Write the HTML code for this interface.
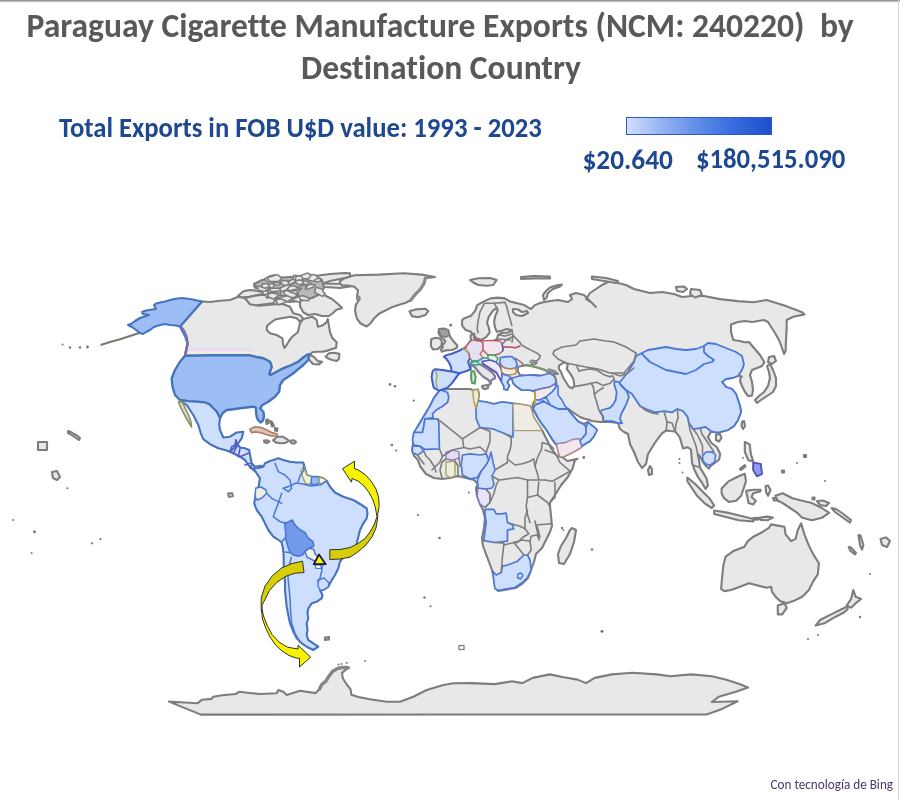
<!DOCTYPE html>
<html><head><meta charset="utf-8">
<style>
html,body{margin:0;padding:0;background:#fff;}
body{font-variant-ligatures:none;width:900px;height:800px;position:relative;overflow:hidden;font-family:"Carlito","Liberation Sans",sans-serif;}
.t{position:absolute;white-space:pre;font-weight:bold;transform-origin:0 0;line-height:1;}
#t1{left:26.5px;top:8px;font-size:33.6px;color:#595959;transform:scaleY(1.05);}
#t1b{left:820px;top:8px;font-size:33.6px;color:#595959;transform:scaleY(1.05);}
#t2{left:301px;top:49.5px;font-size:33.6px;color:#595959;transform:scaleY(1.05);}
#st{left:59px;top:112.7px;font-size:26.7px;color:#1e4890;transform:scaleY(1.08);}
#l1{left:582.5px;top:145px;font-size:27.3px;color:#1e4890;transform:scaleY(1.05);}
#l2{left:696px;top:145px;font-size:26.7px;color:#1e4890;transform:scaleY(1.05);}
#bing{left:770.5px;top:777px;font-size:13.2px;color:#4a3a68;font-weight:normal;transform:scaleY(1.08);}
#bar{position:absolute;left:626px;top:117px;width:145.5px;height:17.5px;box-sizing:border-box;border:1.5px solid #2d5bc5;background:linear-gradient(to right,#d2defb 0%,#93b2f1 25%,#5f8be8 50%,#3569dd 75%,#1d4fcc 100%);}
#topb{position:absolute;left:0;top:0;width:900px;height:3px;background:linear-gradient(#929292 0 1px,#c9c6cc 1px 2px,#eeecf0 2px 3px);}
#rb{position:absolute;left:898px;top:0;width:1px;height:800px;background:#d8d8d8;}
</style></head><body>
<svg id="map" width="900" height="800" viewBox="0 0 900 800" style="position:absolute;left:0;top:0"><polygon points="168.9,701.6 185.0,702.5 197.3,703.3 201.8,699.8 211.6,698.9 213.3,696.7 222.2,695.3 235.6,694.0 239.1,691.8 250.0,693.0 260.0,694.0 276.7,693.3 278.3,690.0 283.3,691.7 286.7,695.0 300.0,690.8 315.6,693.1 319.4,689.2 321.8,684.5 325.7,681.4 328.0,677.6 332.7,671.3 338.1,668.2 343.5,667.4 348.2,667.8 342.0,672.9 342.8,678.3 346.7,684.5 350.5,689.2 351.3,694.7 358.3,697.0 370.0,699.3 386.7,701.7 400.0,701.7 413.3,696.7 426.7,690.0 443.3,685.0 453.3,683.3 470.7,683.1 494.8,684.1 512.0,681.3 522.3,683.1 532.7,677.9 549.9,674.4 563.7,677.2 577.5,679.6 586.1,683.1 594.7,677.9 611.9,674.4 632.6,672.7 656.7,674.4 670.5,676.2 691.1,674.4 711.8,676.2 725.6,679.6 739.4,684.1 748.0,687.5 735.9,691.7 718.7,696.8 711.8,702.0 737.6,701.3 722.1,708.9 706.6,714.5 200.9,714.6" fill="#e8e8e8" stroke="#7d7d7d" stroke-width="2.1" stroke-linejoin="round"/>
<polygon points="721.1,588.9 722.2,576.7 723.3,565.6 725.6,556.7 733.3,551.1 744.4,546.7 747.8,541.1 753.3,536.7 762.2,532.2 768.9,527.8 771.1,524.4 777.8,525.6 784.4,526.7 785.6,534.4 791.1,541.1 795.6,538.9 797.8,530.0 801.1,523.3 804.4,534.4 808.9,545.6 813.3,554.4 818.9,563.3 817.8,574.4 813.3,581.1 808.9,590.0 802.2,596.7 793.3,601.1 786.7,603.3 780.0,601.1 775.6,596.7 772.2,592.2 771.1,586.7 766.7,587.8 757.8,585.6 748.9,583.3 740.0,586.7 731.1,590.0 724.4,591.1" fill="#e8e8e8" stroke="#7d7d7d" stroke-width="2.1" stroke-linejoin="round"/>
<polygon points="777.8,605.6 784.4,603.3 786.7,607.8 782.2,614.4 777.8,614.4" fill="#e8e8e8" stroke="#7d7d7d" stroke-width="2.1" stroke-linejoin="round"/>
<polygon points="853.3,590.0 855.6,596.7 861.1,598.9 855.6,603.3 851.1,607.8 846.7,605.6 851.1,598.9" fill="#e8e8e8" stroke="#7d7d7d" stroke-width="2.1" stroke-linejoin="round"/>
<polygon points="846.7,606.7 840.0,610.0 831.1,614.4 820.0,620.0 815.6,625.6 824.4,623.3 835.6,616.7 844.4,612.2 847.8,608.9" fill="#e8e8e8" stroke="#7d7d7d" stroke-width="2.1" stroke-linejoin="round"/>
<polygon points="572.0,528.0 576.0,530.0 574.0,542.0 570.0,554.0 564.0,564.0 559.0,563.0 558.0,554.0 561.0,546.0 566.0,538.0 570.0,530.0" fill="#e8e8e8" stroke="#7d7d7d" stroke-width="2.1" stroke-linejoin="round"/>
<polygon points="531.0,408.0 534.0,418.0 538.0,424.0 542.0,430.0 545.0,436.0 548.0,442.0 551.0,448.0 554.0,452.0 557.0,456.0 562.0,457.0 567.5,461.0 577.5,458.8 575.0,460.0 572.5,468.8 567.5,477.5 561.2,485.0 555.0,495.0 550.0,502.5 550.0,506.0 551.0,516.0 552.0,526.0 550.0,532.0 546.0,540.0 542.0,548.0 536.0,554.0 534.0,562.0 531.0,570.0 528.0,578.0 522.0,584.0 516.0,588.0 506.0,589.6 498.0,591.0 495.0,586.0 494.0,578.0 492.0,570.0 489.0,562.0 486.0,554.0 483.0,546.0 482.0,538.0 484.0,528.0 485.0,518.0 483.0,510.0 480.0,504.0 477.0,496.0 476.0,488.0 478.0,484.0 474.0,480.0 466.0,478.0 458.0,476.0 450.0,478.0 442.0,479.0 434.0,478.0 426.0,474.0 420.0,466.0 418.0,460.0 414.0,456.0 412.0,450.0 413.0,444.0 414.0,434.0 418.0,426.0 424.0,416.0 430.0,406.0 434.0,398.0 440.0,390.0 450.0,389.0 460.0,389.0 470.0,389.0 473.0,390.0 478.0,389.5 479.0,395.0 478.0,401.0 486.0,402.0 494.0,404.0 502.0,402.0 510.0,403.0 518.0,404.0 530.0,406.0" fill="#e8e8e8" stroke="#7d7d7d" stroke-width="2.1" stroke-linejoin="round"/>
<polygon points="439.4,390.6 433.9,387.8 432.8,383.3 431.7,376.7 432.8,371.1 435.0,369.4 441.7,370.0 448.3,371.1 451.7,371.7 451.1,366.7 448.9,362.2 446.1,358.3 443.9,356.7 447.2,355.0 451.7,353.9 456.1,352.2 459.4,350.6 462.8,348.9 466.1,346.7 468.3,343.9 469.4,342.2 471.0,340.0 470.5,336.0 472.0,333.5 474.5,334.0 474.0,338.0 476.0,340.0 478.5,341.0 481.7,341.0 487.2,341.2 493.9,341.0 497.0,339.0 498.0,335.0 502.0,333.0 508.0,332.5 512.0,330.0 506.6,329.1 501.2,330.9 496.8,331.8 495.0,327.3 494.1,322.0 495.0,316.7 497.7,310.4 496.8,307.8 493.2,310.4 488.8,316.7 487.0,322.9 488.8,327.3 489.7,332.7 486.1,337.1 481.7,339.8 477.2,338.9 474.0,336.0 471.0,331.8 465.7,330.0 462.1,325.6 462.1,320.2 463.9,318.4 471.0,315.8 475.4,310.4 477.2,305.1 483.4,301.6 490.6,298.4 497.7,297.6 504.8,298.4 510.1,301.6 517.2,303.3 524.3,305.1 528.8,307.8 531.0,309.0 535.0,305.1 540.0,303.0 550.0,301.0 558.0,300.0 568.0,302.0 572.0,299.0 570.0,295.0 576.0,293.0 584.0,295.0 590.0,301.0 596.0,307.0 592.0,303.0 586.0,299.0 590.0,293.0 596.0,289.0 602.0,285.0 610.0,281.0 618.0,283.0 626.0,285.0 634.0,289.0 642.0,291.0 650.0,293.0 662.0,292.0 674.0,294.0 682.0,297.0 692.0,296.0 704.0,296.0 720.0,299.1 737.8,301.1 753.3,302.2 766.7,300.0 784.4,305.6 802.2,312.2 804.4,314.4 793.3,316.7 786.7,320.0 786.7,328.0 786.0,340.0 785.6,351.0 784.0,354.0 782.0,348.0 779.0,340.0 775.0,333.0 771.0,326.7 768.0,322.0 764.0,320.0 758.0,321.0 752.0,322.0 745.0,321.0 738.0,322.0 731.0,324.4 731.0,332.0 733.3,340.0 740.0,341.0 744.4,342.2 749.0,342.0 754.0,348.0 760.0,355.0 764.4,362.2 762.0,366.0 757.0,368.0 752.0,370.0 750.0,375.0 752.0,382.0 753.0,390.0 752.0,395.6 748.0,396.0 745.0,392.0 742.0,386.0 740.0,381.0 741.0,376.0 738.0,376.0 732.0,378.0 726.0,379.0 722.0,382.0 726.0,387.0 732.0,389.0 736.0,394.0 738.0,400.0 740.0,406.0 741.0,412.0 738.0,420.0 734.0,426.0 728.0,430.0 718.0,432.6 711.2,431.5 707.9,437.1 711.2,442.7 716.9,447.2 720.2,454.0 719.1,459.6 714.6,463.0 710.1,466.4 709.0,468.6 706.0,466.0 703.0,462.0 700.0,456.2 697.7,454.0 699.0,460.0 700.0,467.5 703.4,473.1 706.7,478.7 707.9,485.5 705.6,488.9 702.2,483.2 697.7,476.5 694.4,469.7 692.1,463.0 691.5,456.0 691.0,449.5 687.6,447.2 683.1,448.4 682.0,445.0 679.7,437.1 675.2,431.5 670.0,431.0 666.2,430.4 661.7,433.7 655.0,442.7 648.0,454.0 646.0,464.0 642.0,468.0 638.0,462.0 634.0,452.0 630.0,444.0 628.0,434.0 624.0,432.0 620.0,429.0 618.0,423.0 610.0,422.0 600.0,422.0 592.0,421.0 588.0,419.5 584.0,418.5 580.0,417.0 574.0,413.0 568.0,408.5 569.0,411.0 572.0,414.5 575.0,418.0 578.0,421.5 582.0,423.5 585.0,423.5 588.0,422.0 590.0,424.0 594.0,427.0 597.0,430.0 594.0,436.0 590.0,441.0 585.0,444.0 580.0,448.0 573.0,452.0 565.0,456.0 560.0,457.0 559.0,454.0 558.0,450.0 557.0,446.0 555.0,443.0 552.0,439.0 549.0,434.0 546.0,429.0 542.0,424.0 538.0,418.0 535.0,412.0 532.0,408.5 533.0,404.0 535.0,400.0 535.0,391.7 530.0,390.0 521.7,390.0 516.7,386.7 513.3,383.3 511.7,378.3 509.4,378.9 507.2,382.2 509.4,385.6 507.2,390.0 504.0,389.0 503.8,386.0 501.5,381.5 498.7,376.4 496.5,372.5 490.3,368.5 483.5,364.0 482.0,361.5 480.7,364.6 486.3,368.0 490.8,371.3 494.2,374.7 495.3,378.0 493.1,379.2 491.4,380.3 490.3,384.3 489.7,381.5 487.5,379.2 483.5,377.0 479.0,372.5 474.6,366.9 470.6,365.0 470.6,369.4 466.1,371.1 460.6,372.8 458.3,374.4 455.0,378.9 451.7,383.3 447.2,387.8 443.9,388.9" fill="#e8e8e8" stroke="#7d7d7d" stroke-width="2.1" stroke-linejoin="round"/>
<polygon points="439.0,329.0 444.0,328.5 448.0,330.0 450.2,336.9 454.3,342.3 457.4,345.4 456.5,348.1 452.0,350.0 445.3,350.4 441.7,351.7 441.0,349.5 443.0,347.0 442.1,345.0 443.9,343.6 445.5,341.4 443.0,338.5 440.5,336.5 438.5,333.0" fill="#e8e8e8" stroke="#7d7d7d" stroke-width="2.1" stroke-linejoin="round"/>
<polygon points="431.5,339.0 436.0,337.8 440.0,338.5 442.0,341.5 441.5,345.5 438.0,349.0 433.0,349.5 430.9,346.0 431.0,342.0" fill="#e8e8e8" stroke="#7d7d7d" stroke-width="2.1" stroke-linejoin="round"/>
<polygon points="471.5,371.5 474.0,371.3 475.5,377.0 474.5,383.5 472.0,382.5 471.2,377.0" fill="#e8e8e8" stroke="#7d7d7d" stroke-width="2.1" stroke-linejoin="round"/>
<polygon points="482.0,386.0 488.6,384.8 488.0,388.0 485.0,389.3 482.5,388.0" fill="#e8e8e8" stroke="#7d7d7d" stroke-width="2.1" stroke-linejoin="round"/>
<polygon points="470.0,280.0 478.3,278.3 490.0,278.0 496.7,280.0 493.3,285.0 486.7,285.8 478.3,285.0 473.3,282.5" fill="#e8e8e8" stroke="#7d7d7d" stroke-width="2.1" stroke-linejoin="round"/>
<polygon points="521.0,277.0 534.0,276.0 550.0,276.5 550.0,278.5 534.0,278.5 521.0,279.0" fill="#e8e8e8" stroke="#7d7d7d" stroke-width="2.1" stroke-linejoin="round"/>
<polygon points="544.0,300.0 543.0,295.0 546.0,291.0 550.0,287.5 556.0,285.5 562.0,284.5 560.0,286.5 553.0,289.0 548.0,293.0 546.5,298.0" fill="#e8e8e8" stroke="#7d7d7d" stroke-width="2.1" stroke-linejoin="round"/>
<polygon points="592.0,276.5 606.0,278.0 618.0,281.0 616.0,283.0 604.0,281.0 592.0,279.0" fill="#e8e8e8" stroke="#7d7d7d" stroke-width="2.1" stroke-linejoin="round"/>
<polygon points="767.0,366.0 770.0,364.0 773.0,370.0 776.0,378.0 776.0,386.0 773.0,392.0 767.0,396.0 761.0,400.0 757.0,403.0 755.0,400.0 759.0,396.0 764.0,392.0 768.0,386.0 770.0,378.0 769.0,372.0" fill="#e8e8e8" stroke="#7d7d7d" stroke-width="2.1" stroke-linejoin="round"/>
<polygon points="769.0,357.0 774.0,356.0 776.0,361.0 772.0,364.0 768.0,362.0" fill="#e8e8e8" stroke="#7d7d7d" stroke-width="2.1" stroke-linejoin="round"/>
<polygon points="676.0,287.0 684.0,286.5 687.0,289.0 683.0,292.0 677.0,291.0" fill="#e8e8e8" stroke="#7d7d7d" stroke-width="2.1" stroke-linejoin="round"/>
<polygon points="691.0,289.0 700.0,290.0 702.0,295.0 695.0,297.5 690.0,294.0" fill="#e8e8e8" stroke="#7d7d7d" stroke-width="2.1" stroke-linejoin="round"/>
<polygon points="742.0,422.0 744.0,421.0 745.0,426.0 743.0,429.0 741.5,426.0" fill="#e8e8e8" stroke="#7d7d7d" stroke-width="2.1" stroke-linejoin="round"/>
<polygon points="716.0,434.5 720.0,434.0 721.5,438.0 719.0,441.6 716.0,440.0" fill="#e8e8e8" stroke="#7d7d7d" stroke-width="2.1" stroke-linejoin="round"/>
<polygon points="650.0,466.0 652.0,469.0 652.0,474.0 649.0,475.0 648.0,470.0" fill="#e8e8e8" stroke="#7d7d7d" stroke-width="2.1" stroke-linejoin="round"/>
<polygon points="687.3,477.5 694.7,483.6 702.0,490.9 709.3,498.2 714.2,505.6 711.8,508.0 704.4,503.1 697.1,495.8 692.2,488.5 687.3,481.1" fill="#e8e8e8" stroke="#7d7d7d" stroke-width="2.1" stroke-linejoin="round"/>
<polygon points="714.2,510.5 728.9,512.9 743.6,516.6 753.3,519.0 753.3,521.5 738.7,520.2 724.0,516.6 714.2,514.1" fill="#e8e8e8" stroke="#7d7d7d" stroke-width="2.1" stroke-linejoin="round"/>
<polygon points="721.6,488.5 728.9,481.1 738.7,476.2 744.8,473.8 746.0,481.1 743.6,488.5 741.1,495.8 736.2,500.7 728.9,501.9 724.0,498.2 721.6,493.3" fill="#e8e8e8" stroke="#7d7d7d" stroke-width="2.1" stroke-linejoin="round"/>
<polygon points="746.0,490.9 753.3,489.7 760.7,489.7 760.0,491.5 753.3,493.3 751.5,497.0 755.8,500.7 753.3,504.4 748.5,503.1 747.2,495.8" fill="#e8e8e8" stroke="#7d7d7d" stroke-width="2.1" stroke-linejoin="round"/>
<polygon points="744.8,442.0 749.7,444.4 750.9,454.2 753.3,461.6 748.5,460.3 744.8,451.8" fill="#e8e8e8" stroke="#7d7d7d" stroke-width="2.1" stroke-linejoin="round"/>
<polygon points="753.3,462.8 760.7,464.0 761.9,473.8 757.0,476.2 753.3,470.1" fill="#e8e8e8" stroke="#7d7d7d" stroke-width="2.1" stroke-linejoin="round"/>
<polygon points="739.9,468.9 744.8,465.2 745.5,466.5 741.0,470.0" fill="#e8e8e8" stroke="#7d7d7d" stroke-width="2.1" stroke-linejoin="round"/>
<polygon points="760.7,517.5 767.0,516.6 772.9,517.5 768.0,520.2 761.0,520.0" fill="#e8e8e8" stroke="#7d7d7d" stroke-width="2.1" stroke-linejoin="round"/>
<polygon points="753.5,518.0 760.0,517.8 759.0,519.5 754.0,519.8" fill="#e8e8e8" stroke="#7d7d7d" stroke-width="2.1" stroke-linejoin="round"/>
<polygon points="765.6,486.0 768.0,485.5 770.5,490.0 768.0,495.8 766.0,492.0" fill="#e8e8e8" stroke="#7d7d7d" stroke-width="2.1" stroke-linejoin="round"/>
<polygon points="773.0,498.0 782.7,498.5 781.0,500.7 774.0,500.5" fill="#e8e8e8" stroke="#7d7d7d" stroke-width="2.1" stroke-linejoin="round"/>
<polygon points="817.0,501.0 823.0,500.5 829.0,503.0 826.0,506.0 820.0,505.0" fill="#e8e8e8" stroke="#7d7d7d" stroke-width="2.1" stroke-linejoin="round"/>
<polygon points="831.6,508.0 836.0,509.0 842.0,513.0 851.0,520.0 850.0,522.7 842.0,517.0 835.0,512.0" fill="#e8e8e8" stroke="#7d7d7d" stroke-width="2.1" stroke-linejoin="round"/>
<polygon points="858.5,535.0 860.5,535.5 863.4,545.0 862.0,549.6 860.0,545.0" fill="#e8e8e8" stroke="#7d7d7d" stroke-width="2.1" stroke-linejoin="round"/>
<polygon points="848.7,547.0 851.0,547.5 856.0,553.0 855.0,554.5 850.0,550.5" fill="#e8e8e8" stroke="#7d7d7d" stroke-width="2.1" stroke-linejoin="round"/>
<polygon points="880.5,539.0 886.0,537.4 890.0,541.0 887.0,547.0 882.0,545.0" fill="#e8e8e8" stroke="#7d7d7d" stroke-width="2.1" stroke-linejoin="round"/>
<polygon points="804.0,455.0 806.0,455.0 806.0,457.0 804.0,457.0" fill="#e8e8e8" stroke="#7d7d7d" stroke-width="2.1" stroke-linejoin="round"/>
<polygon points="782.0,470.5 784.0,470.5 784.0,472.5 782.0,472.5" fill="#e8e8e8" stroke="#7d7d7d" stroke-width="2.1" stroke-linejoin="round"/>
<polygon points="812.5,497.5 814.5,497.5 814.5,499.5 812.5,499.5" fill="#e8e8e8" stroke="#7d7d7d" stroke-width="2.1" stroke-linejoin="round"/>
<polygon points="775.4,495.8 782.7,493.3 792.5,498.2 802.2,500.7 812.0,503.1 821.8,508.0 829.1,512.9 821.8,517.8 812.0,520.2 802.2,517.8 797.4,512.9 790.0,508.0 782.7,503.1 777.8,500.7" fill="#e8e8e8" stroke="#7d7d7d" stroke-width="2.1" stroke-linejoin="round"/>
<polygon points="238.0,296.0 243.3,291.3 250.0,290.0 256.7,290.7 262.0,292.0 263.3,294.0 256.7,295.3 250.0,296.7 243.3,297.3 238.7,297.3" fill="#e8e8e8" stroke="#7d7d7d" stroke-width="2.1" stroke-linejoin="round"/>
<polygon points="245.3,298.0 250.0,296.7 258.0,295.3 267.3,294.7 272.7,296.0 275.3,300.0 273.3,303.3 266.7,304.0 256.7,305.3 250.0,306.0 245.3,304.7" fill="#e8e8e8" stroke="#7d7d7d" stroke-width="2.1" stroke-linejoin="round"/>
<polygon points="254.0,286.0 260.0,284.7 267.3,284.0 272.7,285.3 271.3,288.0 263.3,288.7 255.3,288.0" fill="#e8e8e8" stroke="#7d7d7d" stroke-width="2.1" stroke-linejoin="round"/>
<polygon points="305.0,279.0 315.0,276.0 330.0,274.0 345.0,273.0 350.0,273.3 350.0,277.0 340.0,279.0 330.0,281.0 323.0,283.5 335.0,283.8 350.0,283.5 350.0,286.5 340.0,288.0 325.0,287.0 318.0,285.0 310.0,282.0" fill="#e8e8e8" stroke="#7d7d7d" stroke-width="2.1" stroke-linejoin="round"/>
<polygon points="300.0,297.0 308.0,295.0 318.0,293.0 326.0,296.0 332.0,299.0 338.0,304.0 342.0,308.0 336.0,310.0 333.0,313.0 329.0,316.0 322.0,316.0 315.0,314.0 308.0,315.0 303.0,312.0 300.0,306.0" fill="#e8e8e8" stroke="#7d7d7d" stroke-width="2.1" stroke-linejoin="round"/>
<polygon points="68.0,431.0 71.0,432.0 74.0,434.0 77.0,435.5 80.0,438.0 79.0,440.0 76.0,438.0 73.0,436.0 70.0,434.0 68.0,433.0" fill="#e8e8e8" stroke="#7d7d7d" stroke-width="2.1" stroke-linejoin="round"/>
<polygon points="38.0,442.0 47.0,442.0 47.0,450.0 38.0,450.0" fill="#e8e8e8" stroke="#7d7d7d" stroke-width="2.1" stroke-linejoin="round"/>
<polygon points="52.0,472.0 57.0,471.0 60.0,477.0 57.0,480.0 53.0,478.0" fill="#e8e8e8" stroke="#7d7d7d" stroke-width="2.1" stroke-linejoin="round"/>
<polygon points="228.0,493.5 232.0,493.0 233.0,496.0 229.0,497.0" fill="#e8e8e8" stroke="#7d7d7d" stroke-width="2.1" stroke-linejoin="round"/>
<polyline points="140.0,332.8 130.0,336.0 120.0,339.2 110.0,342.0 101.5,344.8" fill="none" stroke="#7a7a72" stroke-width="2.2" stroke-linejoin="round" stroke-linecap="round"/>
<polygon points="202.0,301.5 210.0,302.0 220.0,300.8 230.0,300.0 238.3,296.7 245.0,298.3 250.0,304.2 258.3,305.8 266.7,305.0 275.0,304.2 283.3,304.2 290.0,306.7 293.3,313.3 300.0,315.0 303.3,318.9 312.2,316.7 316.7,320.0 317.8,326.7 322.2,325.6 326.7,322.2 327.8,318.9 328.9,325.6 330.0,332.2 332.2,337.8 336.7,342.2 336.1,347.8 332.2,348.9 327.8,350.6 322.2,351.7 316.7,351.7 312.2,352.2 310.0,355.0 314.0,357.0 317.8,361.1 322.2,361.7 318.9,364.4 313.0,364.0 309.2,360.0 308.0,355.0 303.3,357.5 298.3,361.7 291.7,365.0 283.3,368.3 276.7,371.7 270.8,375.0 269.2,374.2 271.7,366.7 270.0,361.7 263.3,358.3 255.0,356.7 250.0,355.3 235.0,355.3 210.0,355.3 185.0,355.8 186.0,350.0 188.0,345.0 186.0,338.0 182.0,331.0 180.0,326.5" fill="#e8e8e8" stroke="#7d7d7d" stroke-width="2.1" stroke-linejoin="round"/>
<polygon points="340.0,281.0 344.0,278.5 354.4,275.2 378.9,274.6 403.3,273.3 421.7,274.6 435.1,277.0 425.4,278.2 424.1,283.1 420.5,289.2 415.6,294.1 410.7,300.2 405.8,302.7 398.5,305.1 391.1,307.6 383.8,311.2 378.9,313.7 374.0,318.6 370.3,323.5 366.7,326.5 360.6,323.5 356.9,318.6 355.1,311.2 355.7,305.1 358.1,301.5 356.9,296.6 358.1,290.4 354.4,286.8 348.3,285.6 342.2,285.6 339.8,283.1" fill="#e8e8e8" stroke="#7d7d7d" stroke-width="2.1" stroke-linejoin="round"/>
<polygon points="409.5,311.2 415.6,309.4 425.4,308.8 428.4,311.2 425.4,314.9 418.0,317.3 411.9,316.1" fill="#e8e8e8" stroke="#7d7d7d" stroke-width="2.1" stroke-linejoin="round"/>
<polygon points="325.6,356.7 328.9,353.3 334.4,352.8 339.4,353.9 338.9,358.9 336.7,361.1 332.2,360.0 327.8,358.3" fill="#e8e8e8" stroke="#7d7d7d" stroke-width="2.1" stroke-linejoin="round"/>
<polygon points="273.0,440.2 277.4,436.7 282.8,436.7 287.2,439.3 289.0,441.1 285.4,442.9 280.1,443.3 275.7,442.4" fill="#e8e8e8" stroke="#7d7d7d" stroke-width="2.1" stroke-linejoin="round"/>
<polygon points="264.0,440.5 267.0,440.2 269.4,441.5 267.5,443.0 264.5,442.5" fill="#e8e8e8" stroke="#7d7d7d" stroke-width="2.1" stroke-linejoin="round"/>
<polygon points="290.8,440.5 294.0,440.2 296.1,442.0 294.0,443.8 291.0,443.0" fill="#e8e8e8" stroke="#7d7d7d" stroke-width="2.1" stroke-linejoin="round"/>
<polygon points="266.0,420.0 268.0,419.5 268.5,423.0 266.5,424.0" fill="#e8e8e8" stroke="#7d7d7d" stroke-width="2.1" stroke-linejoin="round"/>
<polygon points="270.0,421.0 272.0,422.0 274.0,426.0 272.0,426.5" fill="#e8e8e8" stroke="#7d7d7d" stroke-width="2.1" stroke-linejoin="round"/>
<polygon points="275.0,428.0 277.5,428.5 277.0,431.0 275.0,430.5" fill="#e8e8e8" stroke="#7d7d7d" stroke-width="2.1" stroke-linejoin="round"/>
<polygon points="325.0,637.5 329.0,637.0 329.0,639.5 325.0,640.0" fill="#e8e8e8" stroke="#7d7d7d" stroke-width="2.1" stroke-linejoin="round"/>
<polygon points="254.0,284.0 262.0,280.0 275.0,278.0 290.0,277.0 305.0,276.0 315.0,276.0 322.0,280.0 324.0,288.0 320.0,294.0 312.0,298.0 300.0,301.0 290.0,302.0 280.0,300.0 272.0,296.0 266.0,290.0 258.0,288.0" fill="#b8b8b8" stroke="#7d7d7d" stroke-width="2.1" stroke-linejoin="round"/>
<polygon points="438.5,329.5 444.0,328.8 448.5,330.5 449.5,335.0 446.0,337.0 441.0,336.0" fill="#a0a0a0" stroke="#7d7d7d" stroke-width="1.5" stroke-linejoin="round"/>
<circle cx="450.7" cy="325.2" r="1.4" fill="#777"/>
<polygon points="290.4,290.9 289.4,293.1 285.4,293.0 282.6,292.4 277.0,290.8 281.0,288.0 285.2,287.4 291.5,288.1" fill="#e8e8e8" stroke="#7d7d7d" stroke-width="1.5" stroke-linejoin="round"/>
<polygon points="299.7,296.9 299.1,298.9 294.6,299.2 294.7,297.1 298.6,295.7" fill="#e8e8e8" stroke="#7d7d7d" stroke-width="1.5" stroke-linejoin="round"/>
<polygon points="306.2,283.2 306.5,284.2 304.1,285.3 300.9,285.8 301.4,284.1 301.3,282.6 305.3,281.6" fill="#e8e8e8" stroke="#7d7d7d" stroke-width="1.5" stroke-linejoin="round"/>
<polygon points="280.2,284.3 279.3,285.0 276.9,285.2 275.0,284.7 273.6,283.6 274.6,282.4 277.2,282.4 279.4,283.3" fill="#e8e8e8" stroke="#7d7d7d" stroke-width="1.5" stroke-linejoin="round"/>
<polygon points="274.0,283.6 273.4,287.5 264.3,289.2 264.3,287.0 269.5,284.1" fill="#e8e8e8" stroke="#7d7d7d" stroke-width="1.5" stroke-linejoin="round"/>
<polygon points="283.2,292.7 281.5,293.9 279.9,294.3 277.5,292.4 276.0,291.0 278.1,290.3 280.1,291.0 281.3,291.4" fill="#e8e8e8" stroke="#7d7d7d" stroke-width="1.5" stroke-linejoin="round"/>
<polygon points="296.1,282.0 293.5,283.3 289.7,284.6 286.8,285.8 283.5,283.2 283.2,281.5 288.9,281.0 292.8,279.8" fill="#e8e8e8" stroke="#7d7d7d" stroke-width="1.5" stroke-linejoin="round"/>
<polygon points="283.0,289.9 282.2,291.9 278.5,293.2 276.4,292.3 276.7,291.2 277.4,289.7 280.5,289.5" fill="#e8e8e8" stroke="#7d7d7d" stroke-width="1.5" stroke-linejoin="round"/>
<polygon points="280.6,280.1 278.3,281.3 274.8,281.9 273.0,281.1 271.2,278.8 272.5,277.9 276.7,277.7 278.3,278.6" fill="#e8e8e8" stroke="#7d7d7d" stroke-width="1.5" stroke-linejoin="round"/>
<polygon points="298.5,293.9 295.5,294.3 291.7,291.6 293.6,290.4 296.1,291.3" fill="#e8e8e8" stroke="#7d7d7d" stroke-width="1.5" stroke-linejoin="round"/>
<polygon points="301.7,288.7 297.2,289.6 292.6,290.1 293.3,287.8 298.6,286.5" fill="#e8e8e8" stroke="#7d7d7d" stroke-width="1.5" stroke-linejoin="round"/>
<polygon points="290.4,297.7 288.0,301.2 284.8,301.7 282.5,300.6 279.6,299.2 284.2,296.6 287.6,297.4" fill="#e8e8e8" stroke="#7d7d7d" stroke-width="1.5" stroke-linejoin="round"/>
<polygon points="270.1,288.7 267.2,290.5 262.3,288.6 260.5,286.6 263.5,285.2 268.2,286.9" fill="#e8e8e8" stroke="#7d7d7d" stroke-width="1.5" stroke-linejoin="round"/>
<polygon points="285.1,291.8 283.0,295.1 274.2,296.1 275.3,293.6 275.8,290.5 280.2,291.2" fill="#e8e8e8" stroke="#7d7d7d" stroke-width="1.5" stroke-linejoin="round"/>
<polygon points="276.8,292.9 273.8,297.1 266.5,298.0 265.4,294.2 273.5,292.4" fill="#e8e8e8" stroke="#7d7d7d" stroke-width="1.5" stroke-linejoin="round"/>
<polygon points="270.3,287.2 264.5,291.4 258.4,290.2 257.1,287.0 265.8,284.8" fill="#e8e8e8" stroke="#7d7d7d" stroke-width="1.5" stroke-linejoin="round"/>
<polygon points="311.6,284.6 306.1,286.5 299.0,280.7 299.4,278.4 308.1,279.1" fill="#e8e8e8" stroke="#7d7d7d" stroke-width="1.5" stroke-linejoin="round"/>
<polygon points="318.8,278.3 315.0,281.5 306.3,279.8 304.9,277.2 308.8,274.5 315.1,274.8" fill="#e8e8e8" stroke="#7d7d7d" stroke-width="1.5" stroke-linejoin="round"/>
<polygon points="291.1,291.3 288.1,292.8 279.2,293.5 276.8,291.1 283.3,287.4 287.3,288.6" fill="#e8e8e8" stroke="#7d7d7d" stroke-width="1.5" stroke-linejoin="round"/>
<polygon points="298.6,288.3 293.6,292.8 289.1,290.4 284.8,287.3 293.7,285.6" fill="#e8e8e8" stroke="#7d7d7d" stroke-width="1.5" stroke-linejoin="round"/>
<polygon points="315.1,284.8 312.6,287.6 310.8,287.9 306.4,289.6 305.3,288.6 307.1,286.6 308.6,284.4 311.8,284.4" fill="#e8e8e8" stroke="#7d7d7d" stroke-width="1.5" stroke-linejoin="round"/>
<polygon points="304.0,280.9 297.8,282.8 292.8,280.1 293.8,275.2 300.8,276.0" fill="#e8e8e8" stroke="#7d7d7d" stroke-width="1.5" stroke-linejoin="round"/>
<polygon points="296.5,281.0 292.7,283.1 289.7,284.6 285.9,283.4 290.3,280.5 292.6,279.1" fill="#e8e8e8" stroke="#7d7d7d" stroke-width="1.5" stroke-linejoin="round"/>
<polygon points="276.8,279.0 277.1,281.6 273.6,281.8 267.0,281.4 264.9,278.6 268.7,276.3 274.6,274.8 277.3,277.0" fill="#e8e8e8" stroke="#7d7d7d" stroke-width="1.5" stroke-linejoin="round"/>
<polygon points="302.9,297.4 299.3,302.4 296.5,301.3 292.2,300.1 294.9,298.0 298.8,296.8" fill="#e8e8e8" stroke="#7d7d7d" stroke-width="1.5" stroke-linejoin="round"/>
<polygon points="287.3,292.2 284.2,293.3 282.2,292.0 282.7,290.6 286.8,290.5" fill="#e8e8e8" stroke="#7d7d7d" stroke-width="1.5" stroke-linejoin="round"/>
<polygon points="309.2,298.2 308.4,300.8 303.7,300.3 300.1,299.4 299.6,297.7 299.0,296.3 303.1,295.8 305.8,296.8" fill="#e8e8e8" stroke="#7d7d7d" stroke-width="1.5" stroke-linejoin="round"/>
<polygon points="282.2,278.1 278.7,281.3 270.1,281.6 267.1,277.9 277.2,274.6" fill="#e8e8e8" stroke="#7d7d7d" stroke-width="1.5" stroke-linejoin="round"/>
<polygon points="308.5,283.4 307.0,284.7 301.8,283.5 302.0,280.5 307.6,281.6" fill="#e8e8e8" stroke="#7d7d7d" stroke-width="1.5" stroke-linejoin="round"/>
<polygon points="289.8,293.0 285.6,296.1 280.6,294.8 280.6,291.7 285.8,290.3" fill="#e8e8e8" stroke="#7d7d7d" stroke-width="1.5" stroke-linejoin="round"/>
<polygon points="281.8,289.7 278.0,291.0 275.6,291.3 270.9,291.4 269.7,288.2 275.7,288.2 281.6,288.1" fill="#e8e8e8" stroke="#7d7d7d" stroke-width="1.5" stroke-linejoin="round"/>
<polygon points="291.4,284.6 286.1,290.1 281.2,291.5 280.1,289.7 281.0,287.5 287.0,285.0" fill="#e8e8e8" stroke="#7d7d7d" stroke-width="1.5" stroke-linejoin="round"/>
<polygon points="268.9,285.0 268.4,286.9 264.8,288.2 260.8,286.7 262.2,285.7 262.3,283.5 265.0,283.7 267.5,283.6" fill="#e8e8e8" stroke="#7d7d7d" stroke-width="1.5" stroke-linejoin="round"/>
<polygon points="300.8,288.9 296.3,294.3 293.1,293.3 288.6,293.0 291.6,290.2 295.0,289.4" fill="#e8e8e8" stroke="#7d7d7d" stroke-width="1.5" stroke-linejoin="round"/>
<polygon points="297.1,291.6 297.8,293.4 292.0,294.7 287.8,294.6 288.1,292.6 289.8,291.0 291.7,290.9 296.6,290.5" fill="#e8e8e8" stroke="#7d7d7d" stroke-width="1.5" stroke-linejoin="round"/>
<polygon points="278.5,295.3 275.7,297.6 272.8,299.0 267.2,296.2 269.6,293.0 275.5,293.4" fill="#e8e8e8" stroke="#7d7d7d" stroke-width="1.5" stroke-linejoin="round"/>
<polygon points="304.0,277.1 302.6,279.4 300.8,280.7 295.2,280.2 295.6,277.0 298.5,275.7 302.0,276.2" fill="#e8e8e8" stroke="#7d7d7d" stroke-width="1.5" stroke-linejoin="round"/>
<polygon points="285.7,299.4 285.6,302.4 278.2,304.7 276.5,302.4 276.8,299.4 282.6,297.9" fill="#e8e8e8" stroke="#7d7d7d" stroke-width="1.5" stroke-linejoin="round"/>
<polygon points="292.3,298.4 287.4,301.6 283.2,299.7 278.2,298.0 283.0,296.7 290.9,295.1" fill="#e8e8e8" stroke="#7d7d7d" stroke-width="1.5" stroke-linejoin="round"/>
<polygon points="303.0,283.0 300.7,284.9 298.1,284.2 294.8,282.1 296.8,280.6 299.8,280.0 303.7,281.6" fill="#e8e8e8" stroke="#7d7d7d" stroke-width="1.5" stroke-linejoin="round"/>
<polygon points="294.9,296.6 295.4,298.1 289.3,296.7 286.0,295.3 282.9,292.3 286.6,290.3 290.9,292.2 298.0,294.8" fill="#e8e8e8" stroke="#7d7d7d" stroke-width="1.5" stroke-linejoin="round"/>
<polygon points="311.0,275.4 308.5,278.8 302.9,278.6 301.0,275.4 307.9,273.0" fill="#e8e8e8" stroke="#7d7d7d" stroke-width="1.5" stroke-linejoin="round"/>
<polygon points="325.5,294.0 322.2,296.4 318.3,294.2 314.3,292.4 315.1,291.4 315.6,287.2 322.1,288.9 323.3,292.1" fill="#e8e8e8" stroke="#7d7d7d" stroke-width="1.5" stroke-linejoin="round"/>
<polygon points="288.9,282.5 287.4,285.2 284.0,285.3 280.6,282.6 281.7,280.9 286.6,280.6" fill="#e8e8e8" stroke="#7d7d7d" stroke-width="1.5" stroke-linejoin="round"/>
<polygon points="320.7,279.6 320.7,280.9 316.5,282.0 315.1,280.8 315.1,279.4 318.0,278.6 320.2,278.5" fill="#e8e8e8" stroke="#7d7d7d" stroke-width="1.5" stroke-linejoin="round"/>
<polygon points="518.3,366.7 526.7,365.0 536.7,367.5 545.0,370.0 550.0,373.3 543.3,375.8 535.0,375.0 526.7,375.8 520.0,375.0 517.5,370.8" fill="#ffffff" stroke="#7d7d7d" stroke-width="2.1" stroke-linejoin="round"/>
<polygon points="558.9,365.6 564.4,362.2 567.8,364.4 566.7,368.9 570.0,373.3 573.3,378.9 574.4,385.6 572.2,388.3 568.9,386.7 566.7,383.3 563.3,377.8 561.1,372.2 558.9,368.9" fill="#ffffff" stroke="#7d7d7d" stroke-width="2.1" stroke-linejoin="round"/>
<polygon points="513.0,309.0 518.0,309.5 522.0,312.0 527.0,311.0 528.0,313.0 522.0,316.0 516.0,315.0 513.0,312.0" fill="#ffffff" stroke="#7d7d7d" stroke-width="2.1" stroke-linejoin="round"/>
<polygon points="270.0,323.3 275.0,319.5 283.0,318.0 290.0,316.7 296.7,318.3 300.0,321.7 303.3,318.9 300.0,323.3 297.8,332.2 292.2,336.7 289.0,341.0 286.0,346.0 284.4,347.8 283.0,344.0 282.5,338.3 276.7,335.0 270.0,333.3 266.7,330.0 267.0,326.0" fill="#ffffff" stroke="#7d7d7d" stroke-width="2.1" stroke-linejoin="round"/>
<polyline points="319.4,689.2 321.8,684.5 325.7,681.4 328.0,677.6 332.7,671.3 338.1,668.2 343.5,667.4 348.2,667.8" fill="none" stroke="#858585" stroke-width="3.4" stroke-linejoin="round" stroke-linecap="round"/>
<circle cx="338.5" cy="664.5" r="1.1" fill="#808080"/>
<circle cx="341.5" cy="664" r="1.1" fill="#808080"/>
<circle cx="346.7" cy="662.8" r="1.1" fill="#808080"/>
<polyline points="425.4,278.2 424.1,283.1 420.5,289.2 415.6,294.1 410.7,300.2" fill="none" stroke="#888" stroke-width="3.2" stroke-linejoin="round" stroke-linecap="round"/>
<ellipse cx="358.5" cy="298.5" rx="2.2" ry="3" fill="#8a8a8a"/>
<circle cx="390" cy="384.4" r="1.3" fill="#777"/>
<circle cx="395" cy="386.3" r="1.3" fill="#777"/>
<circle cx="413.75" cy="400.6" r="1.1" fill="#777"/>
<circle cx="391.9" cy="445" r="1.3" fill="#777"/>
<circle cx="396.25" cy="450.6" r="1.1" fill="#777"/>
<circle cx="583.75" cy="457.5" r="1.4" fill="#777"/>
<circle cx="592" cy="549.5" r="1.2" fill="#777"/>
<circle cx="602" cy="631.25" r="1.5" fill="#777"/>
<circle cx="679.5" cy="459" r="1.0" fill="#777"/>
<circle cx="679.5" cy="463" r="1.0" fill="#777"/>
<circle cx="682.5" cy="472.5" r="0.9" fill="#777"/>
<circle cx="418" cy="515" r="1.1" fill="#777"/>
<circle cx="439.5" cy="538" r="1.3" fill="#777"/>
<circle cx="424.5" cy="597.5" r="1.2" fill="#777"/>
<circle cx="430.5" cy="606.25" r="1.1" fill="#777"/>
<circle cx="365" cy="661" r="1.0" fill="#777"/>
<circle cx="468.75" cy="492.5" r="1.0" fill="#777"/>
<circle cx="67.4" cy="488.3" r="1.0" fill="#777"/>
<circle cx="13.2" cy="519.9" r="1.0" fill="#777"/>
<circle cx="34.4" cy="531.7" r="1.5" fill="#777"/>
<circle cx="31.6" cy="552.9" r="1.0" fill="#777"/>
<circle cx="92.1" cy="543.3" r="1.1" fill="#777"/>
<circle cx="100.4" cy="539.1" r="1.1" fill="#777"/>
<circle cx="562" cy="528" r="1.2" fill="#777"/>
<circle cx="563.5" cy="530" r="0.9" fill="#777"/>
<circle cx="825" cy="481" r="1.0" fill="#777"/>
<circle cx="870" cy="574" r="1.0" fill="#777"/>
<circle cx="860" cy="617" r="1.2" fill="#777"/>
<circle cx="818" cy="635" r="1.0" fill="#777"/>
<circle cx="808" cy="639" r="1.0" fill="#777"/>
<circle cx="797" cy="463" r="1.0" fill="#777"/>
<circle cx="743" cy="458" r="0.9" fill="#777"/>
<circle cx="62.5" cy="344.5" r="1.0" fill="#777"/>
<circle cx="70" cy="347.5" r="1.2" fill="#777"/>
<circle cx="80" cy="347.5" r="1.3" fill="#777"/>
<circle cx="87.5" cy="347" r="1.4" fill="#777"/>
<rect x="459" y="645.5" width="5" height="4" fill="none" stroke="#808080" stroke-width="1.3"/>
<defs><linearGradient id="halo" x1="0" y1="0" x2="0" y2="1"><stop offset="0" stop-color="#e8e8e8"/><stop offset="0.12" stop-color="#dcefe8"/><stop offset="0.35" stop-color="#e6dcf4"/><stop offset="0.55" stop-color="#f3d8ec"/><stop offset="0.75" stop-color="#f5efd8"/><stop offset="0.93" stop-color="#d6efcc"/><stop offset="1" stop-color="#cde8c4"/></linearGradient></defs>
<rect x="186.5" y="345.5" width="66" height="9.5" fill="url(#halo)"/>
<polygon points="185.0,355.8 210.0,355.3 235.0,355.3 250.0,355.3 255.0,356.7 263.3,358.3 270.0,361.7 271.7,366.7 269.2,374.2 270.8,375.0 276.7,371.7 283.3,368.3 291.7,365.0 298.3,361.7 303.3,357.5 306.7,355.0 309.2,354.2 308.3,360.0 303.3,365.0 298.3,369.2 293.3,373.3 288.3,376.7 283.3,380.0 280.0,385.0 279.2,391.7 275.0,396.7 268.3,401.7 262.5,405.0 260.0,408.3 263.5,412.0 264.0,417.0 262.5,421.0 260.5,422.5 258.0,420.0 256.5,416.0 256.0,411.0 255.8,407.5 252.5,406.7 246.7,407.5 240.0,408.3 233.3,409.2 226.7,410.0 222.5,413.3 220.0,418.3 216.7,411.7 213.3,408.3 209.2,404.2 205.0,402.5 196.7,401.7 188.3,401.3 180.0,400.0 175.0,395.0 172.5,386.7 171.7,378.3 175.0,370.0 180.0,361.7" fill="#9dbef5" stroke="#4674bc" stroke-width="2.4" stroke-linejoin="round"/>
<polygon points="202.0,301.5 190.0,299.0 182.0,298.0 174.0,299.0 165.0,301.5 156.0,303.5 154.0,305.0 156.0,309.0 152.0,309.5 146.0,310.5 142.0,312.0 143.0,314.0 149.0,315.0 145.0,316.5 140.0,318.0 135.0,321.0 131.0,324.0 128.0,325.0 132.0,327.0 136.0,330.0 140.0,333.0 143.0,334.0 146.0,332.0 150.0,330.0 154.0,327.0 160.0,325.0 165.0,324.0 170.0,325.0 176.0,325.5 180.0,326.5" fill="#9dbef5" stroke="#4674bc" stroke-width="2.1" stroke-linejoin="round"/>
<polygon points="180.0,400.0 188.3,401.3 196.7,401.7 205.0,402.5 209.2,404.2 213.3,408.3 216.7,411.7 220.0,418.3 219.2,425.0 220.0,430.0 223.3,437.5 230.0,436.7 236.7,432.5 243.3,431.7 241.7,438.3 237.5,444.2 236.0,446.0 230.0,451.7 225.0,450.0 218.3,448.3 210.0,444.2 203.3,439.2 200.8,433.3 198.3,425.0 193.3,415.0 186.7,405.0 183.0,402.5 180.0,401.0" fill="#cedefd" stroke="#4674bc" stroke-width="2.1" stroke-linejoin="round"/>
<polygon points="237.5,444.2 240.0,447.5 245.0,448.3 249.2,450.0 250.0,455.0 251.7,463.3 255.0,466.7 260.8,465.8 263.3,466.7 258.0,470.5 256.7,471.7 253.3,470.0 248.3,465.0 245.0,460.0 240.0,456.7 233.3,453.3 230.0,451.7 236.0,446.0" fill="#cedefd" stroke="#4674bc" stroke-width="2.1" stroke-linejoin="round"/>
<polygon points="180.0,401.0 183.0,403.0 185.5,409.0 189.0,416.0 191.0,422.0 191.5,427.0 188.5,422.0 184.0,414.0 180.5,407.0 178.5,402.0" fill="#d9dcc8" stroke="#8a9060" stroke-width="1.6" stroke-linejoin="round"/>
<polyline points="230.0,451.7 231.7,446.7 235.0,445.0 235.8,440.0" fill="none" stroke="#5a50c8" stroke-width="1.5" stroke-linejoin="round" stroke-linecap="round"/>
<polyline points="235.8,440.0 237.0,444.0 236.7,446.7" fill="none" stroke="#5a50c8" stroke-width="1.5" stroke-linejoin="round" stroke-linecap="round"/>
<polyline points="236.7,446.7 233.3,453.3" fill="none" stroke="#5a50c8" stroke-width="1.5" stroke-linejoin="round" stroke-linecap="round"/>
<polyline points="240.0,448.3 238.3,456.7" fill="none" stroke="#5a50c8" stroke-width="1.5" stroke-linejoin="round" stroke-linecap="round"/>
<polyline points="240.0,456.7 248.3,453.3" fill="none" stroke="#5a50c8" stroke-width="1.5" stroke-linejoin="round" stroke-linecap="round"/>
<polyline points="245.0,465.0 250.0,463.3" fill="none" stroke="#5a50c8" stroke-width="1.5" stroke-linejoin="round" stroke-linecap="round"/>
<polyline points="250.0,468.3 251.7,465.0" fill="none" stroke="#5a50c8" stroke-width="1.5" stroke-linejoin="round" stroke-linecap="round"/>
<polygon points="263.3,466.7 265.0,463.3 270.0,461.0 273.3,460.0 278.3,458.3 283.3,460.0 290.0,461.7 296.7,462.5 303.3,462.5 305.0,468.3 306.7,475.0 311.7,476.7 318.3,476.7 323.3,478.3 326.7,480.8 330.0,486.7 335.0,492.5 343.3,496.7 353.3,500.0 361.7,505.0 366.7,508.3 367.5,513.3 366.7,518.3 363.3,523.3 360.0,530.0 358.3,536.7 356.7,543.3 355.0,550.0 346.7,553.3 340.0,561.7 338.3,568.3 335.0,575.0 330.8,581.7 328.3,586.7 323.3,590.0 320.0,590.0 322.5,595.0 321.7,598.3 316.7,601.7 311.7,603.3 308.3,608.3 307.5,613.3 308.3,618.3 306.7,623.3 307.5,630.0 306.7,635.0 308.3,640.0 313.3,643.3 318.3,646.7 313.3,650.0 306.7,646.7 301.7,643.3 296.7,638.3 293.3,631.7 290.0,623.3 288.3,615.0 286.7,606.7 285.8,598.3 285.0,590.0 285.0,581.7 284.2,573.3 283.7,565.0 283.7,556.7 283.0,548.3 281.5,542.0 277.0,539.0 273.3,536.7 268.3,530.0 265.0,523.3 261.7,516.7 256.7,510.0 254.2,503.3 255.8,495.0 258.3,488.3 260.0,478.3 253.3,468.3 258.0,468.0" fill="#cedefd" stroke="#4674bc" stroke-width="2.1" stroke-linejoin="round"/>
<polygon points="255.8,488.0 261.0,487.0 266.0,490.0 266.7,493.3 262.0,498.0 257.0,500.0 255.0,496.0" fill="#eef0e4" stroke="#4a78d4" stroke-width="1.5" stroke-linejoin="round"/>
<polygon points="284.6,523.5 292.5,520.1 294.7,524.6 299.2,529.1 304.9,532.5 308.2,538.1 312.7,541.5 313.9,546.0 309.4,548.2 304.9,551.6 302.6,555.0 298.1,556.1 293.6,555.0 290.2,552.7 288.0,547.1 285.7,539.2 285.7,532.5" fill="#7399ea" stroke="#4a78d4" stroke-width="1.6" stroke-linejoin="round"/>
<polygon points="304.9,551.6 309.4,548.2 313.9,549.4 315.0,553.9 318.4,557.2 316.1,561.7 311.6,559.5 307.1,557.2" fill="#f2f2e2" stroke="#4a78d4" stroke-width="1.5" stroke-linejoin="round"/>
<polygon points="315.0,565.0 322.9,565.0 322.0,568.5 316.0,568.5" fill="#f6f6f0" stroke="#4a78d4" stroke-width="1.2" stroke-linejoin="round"/>
<polygon points="304.0,466.0 306.7,475.0 311.7,476.7 311.0,484.0 306.0,484.0 303.0,478.0 301.0,471.0" fill="#f0f0e0" stroke="#a0a060" stroke-width="1.4" stroke-linejoin="round"/>
<polygon points="311.7,476.7 318.3,476.7 319.0,483.0 315.0,485.0 311.0,484.0" fill="#9dbef5" stroke="#4a78d4" stroke-width="1.4" stroke-linejoin="round"/>
<polygon points="319.0,477.0 323.3,478.3 326.7,480.8 322.0,484.0 319.0,483.0" fill="#f0f0e4" stroke="#90a060" stroke-width="1.4" stroke-linejoin="round"/>
<polygon points="318.0,580.0 324.0,578.0 329.0,583.0 328.3,586.7 323.3,590.0 320.0,590.0 318.0,586.0" fill="#cedefd" stroke="#4a78d4" stroke-width="1.4" stroke-linejoin="round"/>
<polyline points="275.0,463.3 278.3,471.7 285.0,475.0 290.0,480.0 291.7,488.3 288.3,491.7 283.3,488.3" fill="none" stroke="#4a78d4" stroke-width="1.5" stroke-linejoin="round" stroke-linecap="round"/>
<polyline points="303.3,462.5 304.0,470.0 300.0,476.0 298.0,482.0" fill="none" stroke="#4a78d4" stroke-width="1.5" stroke-linejoin="round" stroke-linecap="round"/>
<polyline points="283.3,488.3 290.0,486.0 296.0,483.0 303.0,484.0 311.0,486.0 320.0,485.0 326.7,480.8" fill="none" stroke="#4a78d4" stroke-width="1.5" stroke-linejoin="round" stroke-linecap="round"/>
<polyline points="266.7,493.3 271.7,498.3 281.7,503.3" fill="none" stroke="#4a78d4" stroke-width="1.5" stroke-linejoin="round" stroke-linecap="round"/>
<polyline points="281.7,493.3 278.3,503.3 275.0,511.7 273.3,516.7 280.0,521.7 286.7,523.3" fill="none" stroke="#4a78d4" stroke-width="1.5" stroke-linejoin="round" stroke-linecap="round"/>
<polyline points="291.4,557.2 289.1,566.2 288.0,577.5 289.1,588.7 290.2,600.0 290.5,610.0 291.7,623.3 295.0,633.3 300.0,642.0" fill="none" stroke="#4a78d4" stroke-width="1.5" stroke-linejoin="round" stroke-linecap="round"/>
<polyline points="285.0,552.0 290.2,552.7" fill="none" stroke="#4a78d4" stroke-width="1.5" stroke-linejoin="round" stroke-linecap="round"/>
<polyline points="320.0,563.0 322.0,570.0 320.0,578.0 318.0,582.0" fill="none" stroke="#4a78d4" stroke-width="1.5" stroke-linejoin="round" stroke-linecap="round"/>
<polyline points="281.5,542.0 285.0,538.0" fill="none" stroke="#4a78d4" stroke-width="1.5" stroke-linejoin="round" stroke-linecap="round"/>
<polygon points="440.0,390.0 441.2,390.0 447.5,392.5 448.8,397.5 447.5,402.5 442.5,406.2 436.2,410.0 432.5,413.8 433.1,417.5 425.0,418.8 423.8,426.2 422.5,432.5 413.8,432.5 418.0,426.0 424.0,416.0 430.0,406.0 434.0,398.0" fill="#cedefd" stroke="#4a78d4" stroke-width="1.7" stroke-linejoin="round"/>
<polygon points="425.0,418.8 437.5,418.8 438.8,422.5 439.4,448.8 425.0,449.4 420.0,446.2 413.8,445.0 412.5,440.0 413.8,432.5 422.5,432.5 423.8,426.2" fill="#cedefd" stroke="#4a78d4" stroke-width="1.7" stroke-linejoin="round"/>
<polygon points="412.5,446.2 420.0,446.2 423.8,451.2 417.5,455.0 412.5,452.5" fill="#cedefd" stroke="#4a78d4" stroke-width="1.5" stroke-linejoin="round"/>
<polygon points="478.0,401.0 486.0,402.0 494.0,404.0 502.0,402.0 510.0,403.0 513.0,404.0 513.0,437.0 505.0,433.8 492.5,428.8 480.0,427.5 476.2,418.8 476.0,408.0" fill="#cedefd" stroke="#4a78d4" stroke-width="1.7" stroke-linejoin="round"/>
<polygon points="473.0,390.0 478.0,389.5 479.0,395.0 478.0,401.0 476.0,408.0 474.0,402.0 473.0,395.0" fill="#eeeadc" stroke="#b0a050" stroke-width="1.4" stroke-linejoin="round"/>
<polygon points="478.0,488.0 486.0,489.0 490.0,494.0 490.0,502.5 485.0,507.5 480.0,504.0 477.0,496.0" fill="#e8e4f4" stroke="#8070c0" stroke-width="1.4" stroke-linejoin="round"/>
<polygon points="513.0,404.0 518.0,404.0 530.0,406.0 531.0,408.0 534.0,418.0 538.0,424.0 542.0,430.6 513.8,430.6" fill="#efece6" stroke="#b0a070" stroke-width="1.2" stroke-linejoin="round"/>
<polygon points="462.5,455.0 470.0,453.8 480.0,455.0 486.2,453.8 488.8,460.0 486.2,465.0 481.2,471.2 477.5,477.5 470.0,478.8 462.5,475.0 461.2,465.0" fill="#cedefd" stroke="#4a78d4" stroke-width="1.7" stroke-linejoin="round"/>
<polygon points="486.2,465.0 488.8,460.0 491.0,452.0 493.0,462.0 495.0,470.0 492.0,476.0 494.0,484.0 492.0,488.0 486.0,489.0 478.0,488.0 477.5,480.0 481.2,471.2" fill="#cedefd" stroke="#4a78d4" stroke-width="1.6" stroke-linejoin="round"/>
<polygon points="446.0,452.0 452.5,450.0 459.0,452.0 459.0,458.0 452.0,460.0 446.0,459.0" fill="#e4e0f4" stroke="#8a70c0" stroke-width="1.3" stroke-linejoin="round"/>
<polygon points="446.0,462.0 455.0,461.0 455.0,476.0 450.0,477.5 446.0,475.0" fill="#eeeedd" stroke="#a0a060" stroke-width="1.3" stroke-linejoin="round"/>
<polygon points="485.0,509.4 493.8,509.4 496.2,513.8 501.2,513.8 506.2,513.1 507.5,522.5 512.5,525.0 513.8,528.8 507.5,530.0 507.5,541.2 495.0,542.5 483.8,540.6 485.0,531.2 486.2,522.5 485.0,515.0" fill="#cedefd" stroke="#4a78d4" stroke-width="1.7" stroke-linejoin="round"/>
<polygon points="492.5,571.2 496.2,575.0 501.2,572.5 502.5,566.2 507.5,565.0 517.5,561.2 523.8,555.0 527.5,555.0 530.0,560.0 531.2,570.0 527.5,577.5 522.5,582.5 515.0,587.5 506.2,588.8 498.8,590.6 495.0,588.8 493.8,581.2 493.1,575.0" fill="#cedefd" stroke="#4a78d4" stroke-width="1.7" stroke-linejoin="round"/>
<polygon points="518.0,574.0 521.0,573.0 523.0,575.5 520.5,579.0 517.5,577.5" fill="#cedefd" stroke="#4a78d4" stroke-width="1.4" stroke-linejoin="round"/>
<polyline points="437.5,418.8 462.5,438.8 480.0,427.5" fill="none" stroke="#7d7d7d" stroke-width="1.6" stroke-linejoin="round" stroke-linecap="round"/>
<polyline points="439.4,448.8 442.5,456.2 452.5,450.0 463.8,447.5 462.5,438.8" fill="none" stroke="#7d7d7d" stroke-width="1.6" stroke-linejoin="round" stroke-linecap="round"/>
<polyline points="463.8,447.5 470.0,449.0 480.0,447.0 486.2,452.5" fill="none" stroke="#7d7d7d" stroke-width="1.6" stroke-linejoin="round" stroke-linecap="round"/>
<polyline points="480.0,427.5 490.0,431.2 490.0,441.2 486.2,452.5" fill="none" stroke="#7d7d7d" stroke-width="1.6" stroke-linejoin="round" stroke-linecap="round"/>
<polyline points="505.0,433.8 511.2,437.5 511.2,443.8 510.0,450.0 507.5,456.2 507.5,462.5 501.2,466.2 495.0,470.0" fill="none" stroke="#7d7d7d" stroke-width="1.6" stroke-linejoin="round" stroke-linecap="round"/>
<polyline points="508.8,460.0 515.0,465.0 522.5,463.8 530.0,461.2 533.8,458.8 535.0,466.2 537.5,473.8" fill="none" stroke="#7d7d7d" stroke-width="1.6" stroke-linejoin="round" stroke-linecap="round"/>
<polyline points="542.5,442.5 541.2,450.0 537.5,457.5 535.0,466.2" fill="none" stroke="#7d7d7d" stroke-width="1.6" stroke-linejoin="round" stroke-linecap="round"/>
<polyline points="542.5,442.5 550.0,445.0 553.8,448.8" fill="none" stroke="#7d7d7d" stroke-width="1.6" stroke-linejoin="round" stroke-linecap="round"/>
<polyline points="545.0,450.0 555.0,453.8" fill="none" stroke="#7d7d7d" stroke-width="1.6" stroke-linejoin="round" stroke-linecap="round"/>
<polyline points="557.5,457.5 560.0,462.5 570.0,471.2 561.2,476.2 552.5,481.2 545.0,480.0" fill="none" stroke="#7d7d7d" stroke-width="1.6" stroke-linejoin="round" stroke-linecap="round"/>
<polyline points="537.5,473.8 538.8,480.0 545.0,480.0" fill="none" stroke="#7d7d7d" stroke-width="1.6" stroke-linejoin="round" stroke-linecap="round"/>
<polyline points="500.0,480.0 508.8,478.8 517.5,477.5 527.5,480.0 537.5,480.0" fill="none" stroke="#7d7d7d" stroke-width="1.6" stroke-linejoin="round" stroke-linecap="round"/>
<polyline points="555.0,482.5 555.0,497.5 550.0,502.5" fill="none" stroke="#7d7d7d" stroke-width="1.6" stroke-linejoin="round" stroke-linecap="round"/>
<polyline points="537.5,495.0 547.5,502.5 550.0,506.2" fill="none" stroke="#7d7d7d" stroke-width="1.6" stroke-linejoin="round" stroke-linecap="round"/>
<polyline points="527.5,480.0 527.5,497.5 526.2,506.2 527.5,515.0 530.0,522.5" fill="none" stroke="#7d7d7d" stroke-width="1.6" stroke-linejoin="round" stroke-linecap="round"/>
<polyline points="527.5,497.5 537.5,495.0 538.8,482.0" fill="none" stroke="#7d7d7d" stroke-width="1.6" stroke-linejoin="round" stroke-linecap="round"/>
<polyline points="498.8,480.0 496.2,485.0 493.8,493.8 490.0,502.5 485.0,507.5" fill="none" stroke="#7d7d7d" stroke-width="1.6" stroke-linejoin="round" stroke-linecap="round"/>
<polyline points="492.0,476.0 498.8,480.0" fill="none" stroke="#7d7d7d" stroke-width="1.6" stroke-linejoin="round" stroke-linecap="round"/>
<polyline points="486.0,489.0 490.0,494.0 490.0,502.5" fill="none" stroke="#7d7d7d" stroke-width="1.6" stroke-linejoin="round" stroke-linecap="round"/>
<polyline points="507.5,522.5 511.2,523.8 520.0,526.2 525.0,528.8 528.8,533.8 522.5,537.5 517.5,542.5 513.8,542.5" fill="none" stroke="#7d7d7d" stroke-width="1.6" stroke-linejoin="round" stroke-linecap="round"/>
<polyline points="525.0,528.8 525.0,517.5 527.5,510.0" fill="none" stroke="#7d7d7d" stroke-width="1.6" stroke-linejoin="round" stroke-linecap="round"/>
<polyline points="513.8,542.5 522.5,540.0 530.0,541.2 531.2,550.0 527.5,555.0" fill="none" stroke="#7d7d7d" stroke-width="1.6" stroke-linejoin="round" stroke-linecap="round"/>
<polyline points="503.8,545.0 513.8,542.5 520.0,550.0 523.8,555.0" fill="none" stroke="#7d7d7d" stroke-width="1.6" stroke-linejoin="round" stroke-linecap="round"/>
<polyline points="495.0,542.5 503.8,543.1 503.8,545.0 502.5,556.2 501.2,572.5" fill="none" stroke="#7d7d7d" stroke-width="1.6" stroke-linejoin="round" stroke-linecap="round"/>
<polyline points="530.0,541.2 531.2,536.2 536.2,535.0 540.0,537.5 537.5,527.5 536.2,525.0 551.2,523.8" fill="none" stroke="#7d7d7d" stroke-width="1.6" stroke-linejoin="round" stroke-linecap="round"/>
<polyline points="535.0,521.0 537.0,530.0 539.0,540.0" fill="none" stroke="#7d7d7d" stroke-width="1.6" stroke-linejoin="round" stroke-linecap="round"/>
<polyline points="442.5,456.2 440.0,462.0 436.0,466.0 432.0,470.0" fill="none" stroke="#7d7d7d" stroke-width="1.6" stroke-linejoin="round" stroke-linecap="round"/>
<polyline points="423.8,451.2 426.0,456.0 430.0,460.0 434.0,466.0 436.0,472.0" fill="none" stroke="#7d7d7d" stroke-width="1.6" stroke-linejoin="round" stroke-linecap="round"/>
<polyline points="446.0,459.0 442.0,462.0 440.0,470.0 442.0,478.0" fill="none" stroke="#7d7d7d" stroke-width="1.6" stroke-linejoin="round" stroke-linecap="round"/>
<polyline points="417.5,455.0 421.0,460.0 424.0,464.0" fill="none" stroke="#7d7d7d" stroke-width="1.6" stroke-linejoin="round" stroke-linecap="round"/>
<polyline points="459.0,458.0 460.0,466.0 461.2,465.0" fill="none" stroke="#7d7d7d" stroke-width="1.6" stroke-linejoin="round" stroke-linecap="round"/>
<polyline points="455.0,461.0 458.0,466.0 458.0,477.0" fill="none" stroke="#7d7d7d" stroke-width="1.6" stroke-linejoin="round" stroke-linecap="round"/>
<polygon points="249.9,429.6 254.3,426.9 260.6,427.3 266.8,430.0 272.1,432.7 277.4,434.0 276.6,435.8 271.2,435.8 265.9,434.4 260.6,432.7 255.2,431.8 251.7,432.7" fill="#e0c8b8" stroke="#b08070" stroke-width="1.8" stroke-linejoin="round"/>
<polyline points="181.0,327.0 184.0,331.0 186.5,337.0 187.5,343.0 186.5,349.0 185.5,354.0" fill="none" stroke="#7a6aa8" stroke-width="2.6" stroke-linejoin="round" stroke-linecap="round"/>
<polyline points="182.5,329.0 185.0,334.0 186.0,340.0" fill="none" stroke="#5a7ad0" stroke-width="2.0" stroke-linejoin="round" stroke-linecap="round"/>
<polygon points="511.7,378.3 520.0,375.8 530.0,375.0 540.0,375.8 550.0,373.3 555.0,376.7 556.0,381.7 555.0,384.0 550.0,387.0 540.0,389.0 533.0,391.0 530.0,390.0 521.7,390.0 516.7,386.7 513.3,383.3" fill="#cedefd" stroke="#4a78d4" stroke-width="1.7" stroke-linejoin="round"/>
<polygon points="533.0,391.0 540.0,389.0 550.0,387.0 555.0,384.0 556.0,387.0 552.0,392.0 546.0,397.0 540.0,400.0 535.0,400.0 535.0,392.0" fill="#efe9ee" stroke="#7a6ab0" stroke-width="1.4" stroke-linejoin="round"/>
<polygon points="555.0,384.0 558.0,386.0 558.0,395.0 562.0,400.0 565.0,406.0 568.0,409.0 565.0,409.0 558.0,409.0 550.0,405.0 546.0,397.0 552.0,392.0 556.0,387.0" fill="#cedefd" stroke="#4a78d4" stroke-width="1.6" stroke-linejoin="round"/>
<polygon points="535.0,400.0 540.0,400.0 546.0,397.0 550.0,405.0 543.0,401.0 538.0,404.0 535.0,404.0" fill="#cedefd" stroke="#4a78d4" stroke-width="1.4" stroke-linejoin="round"/>
<polygon points="538.0,404.0 543.0,401.0 550.0,405.0 558.0,409.0 565.0,409.0 568.0,409.0 569.0,411.0 572.0,414.5 575.0,418.0 578.0,421.5 582.0,423.5 585.0,425.0 586.0,428.0 586.0,434.0 580.0,441.0 579.0,439.0 572.0,440.0 565.0,443.0 557.0,444.0 555.0,443.0 552.0,439.0 549.0,434.0 546.0,429.0 542.0,424.0 538.0,418.0 535.0,412.0 533.0,409.0 535.0,405.0" fill="#cedefd" stroke="#4a78d4" stroke-width="1.8" stroke-linejoin="round"/>
<polygon points="557.0,444.0 565.0,443.0 572.0,440.0 579.0,439.0 580.0,441.0 582.0,446.0 580.0,448.0 573.0,452.0 565.0,456.0 560.0,457.0 559.0,454.0 558.0,450.0 557.0,446.0" fill="#f3e6ee" stroke="#c09090" stroke-width="1.2" stroke-linejoin="round"/>
<polygon points="580.0,441.0 586.0,434.0 586.0,428.0 588.0,422.0 590.0,424.0 594.0,427.0 597.0,430.0 594.0,436.0 590.0,441.0 585.0,444.0 582.0,446.0" fill="#cedefd" stroke="#4a78d4" stroke-width="1.6" stroke-linejoin="round"/>
<polyline points="535.0,392.0 535.0,404.0" fill="none" stroke="#c0a040" stroke-width="2.0" stroke-linejoin="round" stroke-linecap="round"/>
<polygon points="614.4,381.1 618.9,382.2 622.2,386.7 626.7,391.1 628.9,396.7 626.7,403.3 623.3,410.0 621.1,414.4 620.0,418.9 622.2,423.3 618.0,423.0 612.2,421.1 603.3,421.1 603.3,416.7 600.0,412.2 602.2,410.0 610.0,407.8 613.3,404.4 615.6,400.0 616.7,392.2 614.4,385.0" fill="#cedefd" stroke="#4a78d4" stroke-width="1.8" stroke-linejoin="round"/>
<polygon points="620.0,382.0 628.0,372.0 634.0,362.0 636.0,356.0 642.0,353.0 648.0,350.0 660.0,348.0 666.0,347.0 676.0,349.0 686.0,350.0 696.0,349.0 704.0,346.0 708.0,343.0 716.0,344.0 726.0,348.0 736.0,352.0 742.0,356.0 744.0,364.0 742.0,370.0 738.0,376.0 732.0,378.0 726.0,379.0 722.0,382.0 726.0,387.0 732.0,389.0 736.0,394.0 738.0,400.0 740.0,406.0 741.0,412.0 738.0,420.0 734.0,426.0 728.0,430.0 718.0,432.6 711.2,431.5 705.6,427.0 700.0,428.1 693.2,429.2 688.7,422.5 687.6,416.9 683.1,411.2 677.5,409.0 671.9,412.4 664.0,411.2 655.0,412.4 646.0,409.0 640.0,406.0 636.0,400.0 632.0,394.0 626.0,390.0 620.0,384.0" fill="#cedefd" stroke="#4a78d4" stroke-width="1.8" stroke-linejoin="round"/>
<polyline points="642.0,354.0 650.0,362.0 658.0,366.0 666.0,370.0 676.0,372.0 686.0,374.0 696.0,370.0 704.0,364.0 712.0,362.0 714.0,360.0 708.0,356.0 704.0,352.0 704.0,346.0" fill="none" stroke="#4a78d4" stroke-width="1.8" stroke-linejoin="round" stroke-linecap="round"/>
<polygon points="702.5,456.0 706.0,452.0 712.0,451.7 715.7,455.0 714.6,462.0 710.0,465.2 706.0,464.0 703.0,461.0" fill="#cedefd" stroke="#4a78d4" stroke-width="1.6" stroke-linejoin="round"/>
<polygon points="753.3,462.8 760.7,464.0 761.9,473.8 757.0,476.2 753.3,470.1" fill="#8d9cf0" stroke="#5050c0" stroke-width="1.6" stroke-linejoin="round"/>
<polyline points="554.0,351.0 562.0,347.0 576.0,345.0 580.0,341.0 594.0,339.0 606.0,341.0 614.0,342.0 626.0,347.0 636.0,353.0" fill="none" stroke="#7d7d7d" stroke-width="1.6" stroke-linejoin="round" stroke-linecap="round"/>
<polyline points="636.0,353.0 634.0,361.0 624.0,373.0 610.0,373.0 598.0,369.0 586.0,367.0 576.0,365.0 566.0,363.0 558.0,359.0 553.0,354.0 554.0,351.0" fill="none" stroke="#7d7d7d" stroke-width="1.6" stroke-linejoin="round" stroke-linecap="round"/>
<polyline points="576.7,365.6 578.9,371.1 583.3,370.0 590.0,368.9 596.7,370.0 603.3,374.4 610.0,376.7" fill="none" stroke="#7d7d7d" stroke-width="1.6" stroke-linejoin="round" stroke-linecap="round"/>
<polyline points="610.0,376.7 612.2,375.6 614.4,378.9 610.0,383.3 603.3,385.6 596.7,382.2 591.1,383.3" fill="none" stroke="#7d7d7d" stroke-width="1.6" stroke-linejoin="round" stroke-linecap="round"/>
<polyline points="573.3,386.7 580.0,385.6 586.7,384.4 591.1,383.3 593.3,386.7 594.4,394.4 596.7,402.2 598.9,410.0 602.2,414.4 603.3,421.1" fill="none" stroke="#7d7d7d" stroke-width="1.6" stroke-linejoin="round" stroke-linecap="round"/>
<polyline points="594.4,394.4 597.8,391.1 603.3,387.8" fill="none" stroke="#7d7d7d" stroke-width="1.6" stroke-linejoin="round" stroke-linecap="round"/>
<polyline points="553.3,374.4 556.0,379.0 556.7,383.3" fill="none" stroke="#7d7d7d" stroke-width="1.6" stroke-linejoin="round" stroke-linecap="round"/>
<polyline points="612.0,373.0 620.0,376.0 628.0,373.0 634.0,368.0" fill="none" stroke="#7d7d7d" stroke-width="1.6" stroke-linejoin="round" stroke-linecap="round"/>
<polyline points="545.0,370.0 552.0,372.0 558.0,374.0 553.3,374.4" fill="none" stroke="#7d7d7d" stroke-width="1.6" stroke-linejoin="round" stroke-linecap="round"/>
<polyline points="640.0,406.0 645.0,410.0 652.0,413.0 658.0,414.0" fill="none" stroke="#7d7d7d" stroke-width="1.6" stroke-linejoin="round" stroke-linecap="round"/>
<polyline points="664.0,411.2 667.0,422.0 666.2,430.4" fill="none" stroke="#7d7d7d" stroke-width="1.6" stroke-linejoin="round" stroke-linecap="round"/>
<polyline points="667.0,422.0 672.0,423.0 675.2,431.5" fill="none" stroke="#7d7d7d" stroke-width="1.6" stroke-linejoin="round" stroke-linecap="round"/>
<polyline points="677.5,409.0 678.0,418.0 676.0,424.0 675.2,431.5" fill="none" stroke="#7d7d7d" stroke-width="1.6" stroke-linejoin="round" stroke-linecap="round"/>
<polyline points="688.7,422.5 690.0,430.0 693.0,438.0 696.0,446.0 697.7,454.0" fill="none" stroke="#7d7d7d" stroke-width="1.6" stroke-linejoin="round" stroke-linecap="round"/>
<polyline points="700.0,428.1 702.0,434.0 706.0,440.0 710.0,446.0 714.0,452.0" fill="none" stroke="#7d7d7d" stroke-width="1.6" stroke-linejoin="round" stroke-linecap="round"/>
<polyline points="693.2,429.2 697.0,434.0 700.0,440.0 702.5,446.0 702.5,454.0" fill="none" stroke="#7d7d7d" stroke-width="1.6" stroke-linejoin="round" stroke-linecap="round"/>
<polyline points="692.5,465.0 700.0,467.5" fill="none" stroke="#7d7d7d" stroke-width="1.6" stroke-linejoin="round" stroke-linecap="round"/>
<polyline points="738.0,376.0 742.0,376.9" fill="none" stroke="#7d7d7d" stroke-width="1.6" stroke-linejoin="round" stroke-linecap="round"/>
<polyline points="511.9,325.6 510.1,319.3 508.3,313.1 506.6,306.0 504.8,302.4" fill="none" stroke="#7d7d7d" stroke-width="1.6" stroke-linejoin="round" stroke-linecap="round"/>
<polyline points="478.1,332.7 477.2,328.2 478.1,321.1 479.9,312.2 484.3,303.3 494.1,303.3 496.8,307.8" fill="none" stroke="#7d7d7d" stroke-width="1.6" stroke-linejoin="round" stroke-linecap="round"/>
<polyline points="494.1,303.3 504.8,302.4" fill="none" stroke="#7d7d7d" stroke-width="1.6" stroke-linejoin="round" stroke-linecap="round"/>
<polyline points="498.0,335.0 505.0,336.0 512.0,334.0" fill="none" stroke="#7d7d7d" stroke-width="1.6" stroke-linejoin="round" stroke-linecap="round"/>
<polyline points="497.0,339.0 505.0,339.5 510.0,340.0" fill="none" stroke="#7d7d7d" stroke-width="1.6" stroke-linejoin="round" stroke-linecap="round"/>
<polyline points="512.0,330.0 513.0,336.0 512.0,342.0" fill="none" stroke="#7d7d7d" stroke-width="1.6" stroke-linejoin="round" stroke-linecap="round"/>
<polyline points="513.8,336.2 519.1,341.6 521.8,345.1 526.2,347.8 531.6,350.4 536.9,353.1 540.4,355.8 538.7,359.3 535.1,362.0 531.6,362.9" fill="none" stroke="#7d7d7d" stroke-width="1.6" stroke-linejoin="round" stroke-linecap="round"/>
<polyline points="502.2,344.2 506.0,340.0 510.0,338.0 513.8,336.2" fill="none" stroke="#7d7d7d" stroke-width="1.6" stroke-linejoin="round" stroke-linecap="round"/>
<polyline points="529.8,362.0 532.0,360.2 535.0,361.0 536.9,363.0 534.0,364.7 531.0,364.0" fill="none" stroke="#7d7d7d" stroke-width="1.6" stroke-linejoin="round" stroke-linecap="round"/>
<polyline points="548.4,369.0 555.0,371.0 558.0,374.0" fill="none" stroke="#7d7d7d" stroke-width="1.6" stroke-linejoin="round" stroke-linecap="round"/>
<polygon points="451.7,371.7 451.1,366.7 448.9,362.2 446.1,358.3 443.9,356.7 447.2,355.0 451.7,353.9 456.1,352.2 459.4,350.6 462.8,348.9 466.0,350.0 469.0,353.0 470.0,358.0 468.0,362.0 470.6,369.4 466.1,371.1 460.6,372.8 458.0,373.0 452.0,372.0" fill="#cedefd" stroke="#3a5fd0" stroke-width="1.8" stroke-linejoin="round"/>
<polygon points="435.0,369.4 441.7,370.0 448.3,371.1 451.7,371.7 458.0,373.0 458.3,374.4 455.0,378.9 451.7,383.3 447.2,387.8 443.9,388.9 439.4,390.6 433.9,387.8 432.8,383.3 431.7,376.7 432.8,371.1" fill="#cedefd" stroke="#3a5fd0" stroke-width="1.8" stroke-linejoin="round"/>
<polyline points="436.0,371.0 437.0,376.0 436.0,382.0 437.0,387.0" fill="none" stroke="#a0b040" stroke-width="1.5" stroke-linejoin="round" stroke-linecap="round"/>
<polygon points="466.1,346.7 468.3,343.9 469.4,342.2 472.8,340.0 477.0,341.0 480.6,341.1 483.0,343.0 483.0,350.0 480.0,354.0 483.0,358.0 478.0,361.0 472.0,361.0 470.0,358.0 469.0,353.0 466.0,350.0" fill="#e4e0f4" stroke="#d05050" stroke-width="1.2" stroke-linejoin="round"/>
<polygon points="480.6,341.1 487.2,340.6 493.9,340.5 500.0,341.0 502.2,344.2 503.1,350.4 499.0,354.0 494.0,355.0 488.0,355.0 483.0,350.0 483.0,343.0" fill="#f3e6ee" stroke="#c05060" stroke-width="1.3" stroke-linejoin="round"/>
<polyline points="503.1,346.9 509.3,346.9 515.6,347.8 520.0,346.0" fill="none" stroke="#c04060" stroke-width="1.5" stroke-linejoin="round" stroke-linecap="round"/>
<polyline points="502.2,344.2 503.1,350.4" fill="none" stroke="#4060c0" stroke-width="1.5" stroke-linejoin="round" stroke-linecap="round"/>
<polyline points="515.6,358.4 520.9,362.0 523.6,364.7" fill="none" stroke="#a06080" stroke-width="1.4" stroke-linejoin="round" stroke-linecap="round"/>
<polyline points="524.4,365.6 534.0,366.5 544.0,369.1 548.4,371.8" fill="none" stroke="#70a060" stroke-width="1.3" stroke-linejoin="round" stroke-linecap="round"/>
<polygon points="472.0,361.0 478.0,361.0 483.0,358.0 488.0,358.0 490.0,362.0 484.0,364.0 476.0,365.0 470.0,364.0" fill="#d8eef0" stroke="#30a0a0" stroke-width="1.5" stroke-linejoin="round"/>
<polygon points="488.0,355.0 494.0,355.0 498.0,358.0 496.0,362.0 490.0,362.0 488.0,358.0" fill="#e0f0e0" stroke="#40a060" stroke-width="1.4" stroke-linejoin="round"/>
<polygon points="499.6,362.0 500.4,357.6 506.7,356.7 512.0,356.7 515.6,360.2 517.3,364.7 515.6,368.2 510.2,369.1 504.9,368.2 501.3,365.6" fill="#cedefd" stroke="#4a78d4" stroke-width="1.7" stroke-linejoin="round"/>
<polygon points="482.0,361.5 490.0,360.0 496.0,362.0 500.0,366.0 502.0,372.0 501.5,381.5 498.7,376.4 496.5,372.5 490.3,368.5 483.5,364.0" fill="#e8ecf8" stroke="#6050c0" stroke-width="1.6" stroke-linejoin="round"/>
<polygon points="501.3,365.6 504.9,368.2 510.2,369.1 515.6,368.2 516.4,372.7 513.8,374.4 508.0,375.0 503.0,373.5 501.0,370.0" fill="#f0eee0" stroke="#c08040" stroke-width="1.3" stroke-linejoin="round"/>
<polygon points="501.5,381.5 502.0,374.0 509.0,376.0 511.7,378.3 509.4,378.9 507.2,382.2 509.4,385.6 507.2,390.0 504.0,389.0 503.8,386.0" fill="#cedefd" stroke="#4a78d4" stroke-width="1.6" stroke-linejoin="round"/>
<polyline points="462.8,348.9 466.0,350.0 469.0,353.0" fill="none" stroke="#c0b050" stroke-width="1.4" stroke-linejoin="round" stroke-linecap="round"/>
<polyline points="470.6,365.0 472.0,362.0 476.0,361.5 480.7,364.6" fill="none" stroke="#50a060" stroke-width="1.4" stroke-linejoin="round" stroke-linecap="round"/>
<polyline points="480.7,364.6 486.3,368.0 490.8,371.3 494.2,374.7 495.3,378.0 493.1,379.2 491.4,380.3 490.3,384.3 489.7,381.5 487.5,379.2 483.5,377.0 479.0,372.5 474.6,366.9 470.6,365.0" fill="none" stroke="#8a7aa0" stroke-width="1.7" stroke-linejoin="round" stroke-linecap="round"/>
<polygon points="471.5,371.5 474.0,371.3 475.5,377.0 474.5,383.5 472.0,382.5 471.2,377.0" fill="#cfe3c8" stroke="#50a060" stroke-width="1.6" stroke-linejoin="round"/>
<polygon points="329.8,549.7 340.0,549.5 350.0,547.5 358.0,543.5 365.0,538.5 370.0,532.0 374.0,525.0 377.0,516.5 377.8,516.5 377.5,519.0 376.0,528.0 372.0,537.0 365.0,546.0 357.0,552.5 350.0,557.2 340.0,559.0 329.8,559.5" fill="#d6ce08" stroke="#33332a" stroke-width="1.0" stroke-linejoin="round"/>
<polygon points="377.5,516.0 379.2,505.5 378.5,497.0 376.0,489.0 371.0,481.0 365.0,474.5 358.0,469.8 354.5,468.6 354.5,461.2 342.5,468.7 351.5,482.2 352.0,478.5 358.0,481.0 364.0,486.0 369.0,492.5 373.0,500.0 375.5,508.0 376.8,516.0" fill="#f6f200" stroke="#33332a" stroke-width="1.0" stroke-linejoin="round"/>
<polygon points="302.5,561.2 292.0,563.5 281.5,568.0 272.5,575.5 265.0,586.0 261.2,598.0 261.2,610.5 262.2,610.5 262.0,605.0 265.0,599.5 269.5,590.5 277.0,582.2 286.0,576.2 295.0,573.2 304.0,572.5" fill="#d6ce08" stroke="#33332a" stroke-width="1.0" stroke-linejoin="round"/>
<polygon points="261.4,610.0 262.5,619.0 265.7,628.0 270.0,637.0 275.5,645.0 282.0,651.0 289.0,655.5 296.5,658.2 299.5,658.2 299.5,667.0 310.7,657.2 298.0,645.2 298.0,649.0 287.5,647.2 279.0,642.0 272.0,634.5 267.0,625.0 263.5,616.0 262.3,610.0" fill="#f6f200" stroke="#33332a" stroke-width="1.0" stroke-linejoin="round"/>
<polygon points="319.0,554.5 313.7,564.2 325.7,564.2" fill="#f6f200" stroke="#16164a" stroke-width="1.8" stroke-linejoin="round"/></svg>
<div id="topb"></div><div id="rb"></div>
<div class="t" id="t1">Paraguay Cigarette Manufacture Exports (NCM: 240220)</div>
<div class="t" id="t1b">by</div>
<div class="t" id="t2">Destination Country</div>
<div class="t" id="st">Total Exports in FOB U$D value: 1993 - 2023</div>
<div id="bar"></div>
<div class="t" id="l1">$20.640</div>
<div class="t" id="l2">$180,515.090</div>
<div class="t" id="bing">Con tecnología de Bing</div>
<script>
(function(){
 var W={t1:[778.08,1.05],t1b:[33.75,1.05],t2:[280,1.05],st:[482.75,1.08],l1:[90.31,1.05],l2:[149.28,1.05],bing:[122.52,1.08]};
 function fit(){
  for(var id in W){
   var e=document.getElementById(id); if(!e) continue;
   e.style.transform='scale(1,'+W[id][1]+')';
   var w=e.getBoundingClientRect().width; if(!w) continue;
   var sx=W[id][0]/w; if(Math.abs(sx-1)<0.015) continue;
   var sy=W[id][1]*Math.min(1,sx);
   e.style.transform='scale('+sx.toFixed(4)+','+sy.toFixed(4)+')';
  }
 }
 fit();
 if(document.fonts&&document.fonts.ready){document.fonts.ready.then(fit);}
})();
</script>
</body></html>
